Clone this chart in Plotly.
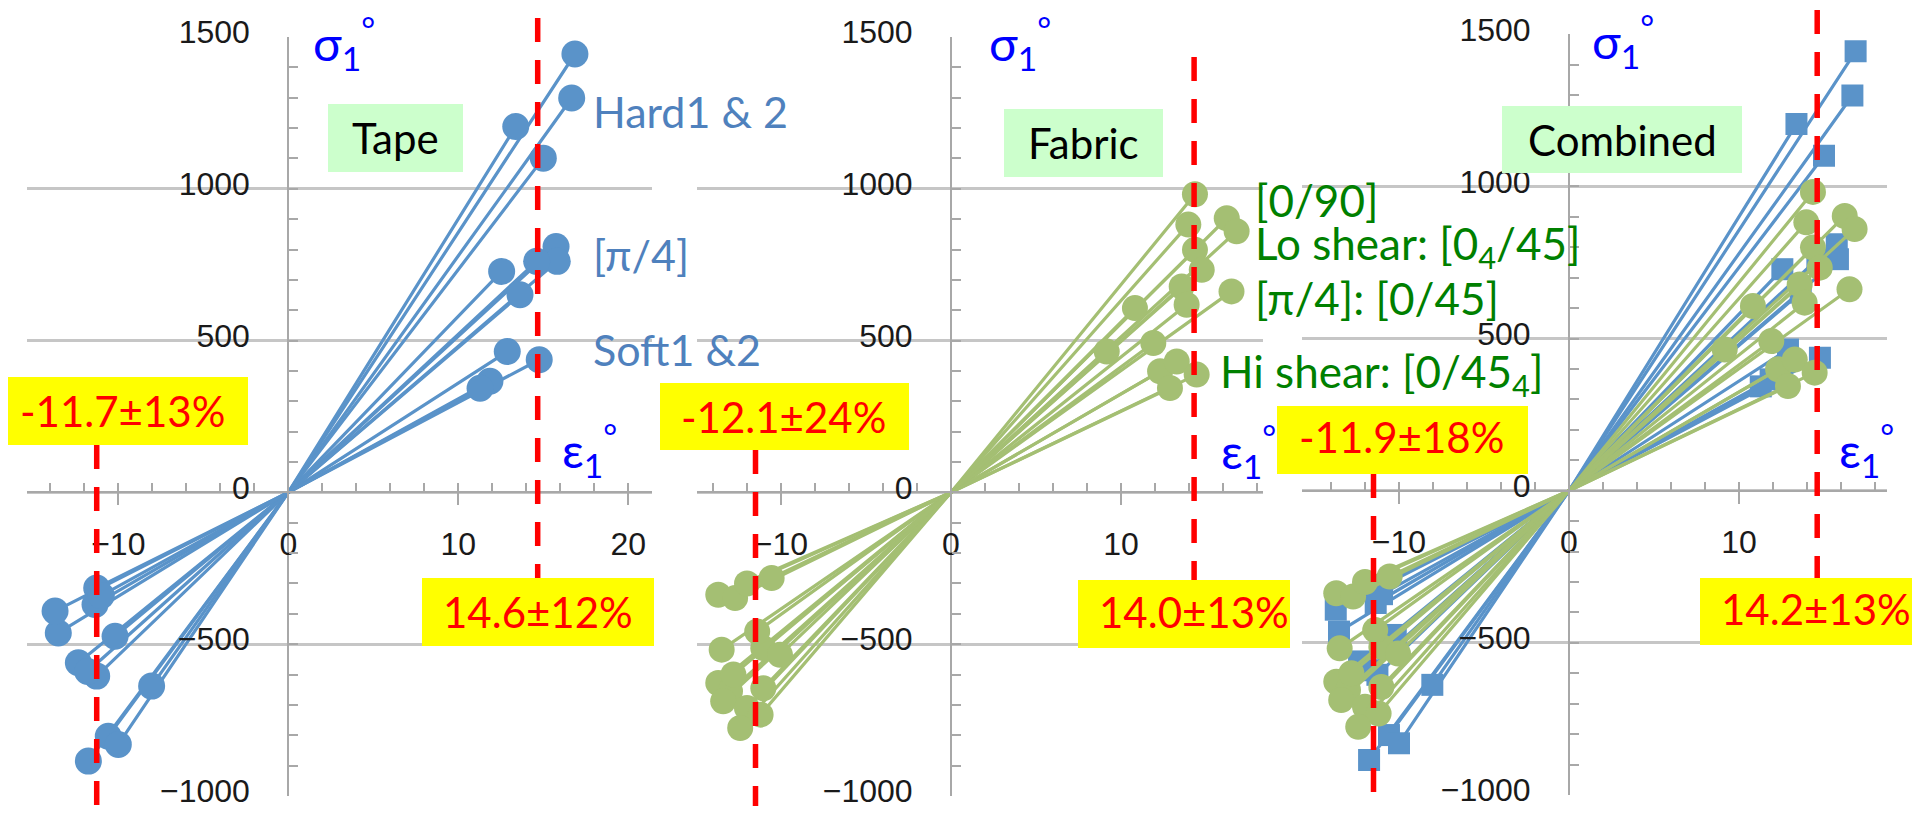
import plotly.graph_objects as go

# ---------------- data ----------------
tape_tension_strain = [16.86, 16.67, 13.38, 15.00, 15.75, 15.82, 14.61, 12.55, 13.63, 12.88, 14.76, 11.86, 11.28]
tape_tension_stress = [1444, 1299, 1205, 1101, 810, 761, 761, 728, 651, 464, 437, 366, 343]
tape_compression_strain = [-11.76, -10.59, -10.00, -8.04, -12.35, -11.27, -11.80, -10.19, -13.53, -13.72, -11.27, -11.37, -11.00]
tape_compression_stress = [-885, -803, -830, -638, -561, -605, -590, -474, -463, -391, -315, -369, -340]

fabric_tension_strain = [14.35, 13.96, 16.22, 16.80, 14.35, 14.75, 13.57, 13.86, 16.50, 10.82, 11.90, 9.16, 12.30, 13.28, 14.45, 12.88]
fabric_tension_stress = [982, 882, 903, 860, 799, 733, 678, 618, 662, 607, 492, 464, 399, 431, 388, 344]
fabric_compression_strain = [-10.55, -13.69, -12.70, -12.00, -13.49, -11.04, -10.06, -11.40, -13.69, -13.00, -11.04, -13.40, -12.00, -11.20, -12.40, -12.80]
fabric_compression_stress = [-282, -337, -348, -300, -518, -513, -535, -458, -628, -655, -645, -688, -710, -732, -776, -600]

panel_titles = ["Tape", "Fabric", "Combined"]
mean_compression_strain = [-11.27, -11.5, -11.5]
mean_tension_strain = [14.67, 14.3, 14.6]
compression_labels = ["-11.7±13%", "-12.1±24%", "-11.9±18%"]
tension_labels = ["14.6±12%", "14.0±13%", "14.2±13%"]
tape_labels = ["Hard1 & 2", "[π/4]", "Soft1 &2"]
fabric_labels = ["[0/90]", "Lo shear: [0<sub>4</sub>/45]", "[π/4]: [0/45]", "Hi shear: [0/45<sub>4</sub>]"]
y_range = [-1000, 1500]

# ---------------- layout geometry (pixels) ----------------
W, H = 1920, 817
OFF = 8  # page body margin in the browser
PX_PER_UNIT = 17.0
panels = [
    dict(x0=27, x1=652, xzero=288.3, ytop=37, ybot=796),
    dict(x0=697, x1=1263, xzero=951, ytop=37, ybot=796),
    dict(x0=1302, x1=1887, xzero=1569, ytop=34.3, ybot=795),
]


def fx(px):
    return (px - OFF) / W


def fy(py):
    return 1 - (py - OFF) / H


BLUE = "#5A93C9"
GREEN = "#A4BF73"
GRID = "#C6C6C6"
AXIS = "#A8A8A8"
TICKFONT = dict(family="Liberation Sans", size=32, color="#1A1A1A")


def spec_xy(cs, cy, ts, ty):
    xs, ys = [], []
    for a, b, c, d in zip(cs, cy, ts, ty):
        xs += [a, 0, c, None]
        ys += [b, 0, d, None]
    return xs, ys


fig = go.Figure()

tape_lx, tape_ly = spec_xy(tape_compression_strain, tape_compression_stress,
                           tape_tension_strain, tape_tension_stress)
fab_lx, fab_ly = spec_xy(fabric_compression_strain, fabric_compression_stress,
                         fabric_tension_strain, fabric_tension_stress)
tape_mx = tape_compression_strain + tape_tension_strain
tape_my = tape_compression_stress + tape_tension_stress
fab_mx = fabric_compression_strain + fabric_tension_strain
fab_my = fabric_compression_stress + fabric_tension_stress


def add_set(lx, ly, mx, my, color, symbol, size, xa, ya):
    fig.add_trace(go.Scatter(x=lx, y=ly, mode="lines", line=dict(color=color, width=3.2),
                             xaxis=xa, yaxis=ya, showlegend=False, hoverinfo="skip"))
    fig.add_trace(go.Scatter(x=mx, y=my, mode="markers",
                             marker=dict(color=color, symbol=symbol, size=size, line=dict(width=0)),
                             xaxis=xa, yaxis=ya, showlegend=False))


add_set(tape_lx, tape_ly, tape_mx, tape_my, BLUE, "circle", 27, "x", "y")
add_set(fab_lx, fab_ly, fab_mx, fab_my, GREEN, "circle", 26, "x2", "y2")
add_set(tape_lx, tape_ly, tape_mx, tape_my, BLUE, "square", 22, "x3", "y3")
add_set(fab_lx, fab_ly, fab_mx, fab_my, GREEN, "circle", 26, "x3", "y3")

layout = dict(template="none", width=W, height=H, margin=dict(l=0, r=0, t=0, b=0, pad=0),
              autosize=False, paper_bgcolor="white", plot_bgcolor="white", showlegend=False)

for i, p in enumerate(panels):
    sfx = "" if i == 0 else str(i + 1)
    xr = [(p["x0"] - p["xzero"]) / PX_PER_UNIT, (p["x1"] - p["xzero"]) / PX_PER_UNIT]
    ydom = [fy(p["ybot"]), fy(p["ytop"])]
    xdom = [fx(p["x0"]), fx(p["x1"])]
    ypos = ydom[0] + (0 - y_range[0]) / (y_range[1] - y_range[0]) * (ydom[1] - ydom[0])
    xpos = xdom[0] + (0 - xr[0]) / (xr[1] - xr[0]) * (xdom[1] - xdom[0])
    layout["xaxis" + sfx] = dict(
        domain=xdom, range=xr, anchor="free", position=ypos, side="bottom", automargin=False,
        showgrid=False, zeroline=False, showline=True, linecolor=AXIS, linewidth=2,
        tick0=0, dtick=10, ticks="outside", ticklen=12, tickwidth=2, tickcolor=AXIS,
        minor=dict(dtick=2, tick0=0, ticks="inside", ticklen=8, tickwidth=2, tickcolor=AXIS),
        tickfont=TICKFONT, ticklabelstandoff=11, fixedrange=True)
    layout["yaxis" + sfx] = dict(
        domain=ydom, range=y_range, anchor="free", position=xpos, side="left", automargin=False,
        showgrid=True, gridcolor=GRID, gridwidth=3, zeroline=False,
        showline=True, linecolor=AXIS, linewidth=2,
        tick0=0, dtick=500, ticks="inside", ticklen=9, tickwidth=2, tickcolor=AXIS,
        minor=dict(dtick=100, ticks="inside", ticklen=9, tickwidth=2, tickcolor=AXIS),
        tickfont=TICKFONT, ticklabelstandoff=31, ticklabelshift=-5, fixedrange=True)

fig.update_layout(**layout)

# ---------------- shapes ----------------
shapes = []
DASH = dict(color="#FF0000", width=5.5, dash="24px,18px")
# (neg dash top, neg dash bottom, pos dash top, pos dash bottom) in px
dash_extent = [(445, 806, 18, 578), (450, 806, 57, 580), (474, 810, 10, 578)]
yellow_boxes = [((0, 377, 248, 445), (422, 578, 654, 646)),
                ((660, 383, 909, 450), (1078, 580, 1290, 648)),
                ((1277, 406, 1528, 474), (1700, 578, 1930, 645))]
green_boxes = [(328, 104, 463, 172), (1004, 109, 1163, 177), (1502, 106, 1742, 173)]

for i in range(3):
    xref = "x" if i == 0 else "x" + str(i + 1)
    nt, nb, pt, pb = dash_extent[i]
    shapes.append(dict(type="line", xref=xref, yref="paper", x0=mean_compression_strain[i],
                       x1=mean_compression_strain[i], y0=fy(nt), y1=fy(nb), line=DASH, layer="above"))
    shapes.append(dict(type="line", xref=xref, yref="paper", x0=mean_tension_strain[i],
                       x1=mean_tension_strain[i], y0=fy(pt), y1=fy(pb), line=DASH, layer="above"))
for i in range(3):
    for (a, b, c, d) in yellow_boxes[i]:
        shapes.append(dict(type="rect", xref="paper", yref="paper", x0=fx(a), x1=fx(c),
                           y0=fy(d), y1=fy(b), fillcolor="#FFFF00", line=dict(width=0), layer="above"))
    a, b, c, d = green_boxes[i]
    shapes.append(dict(type="rect", xref="paper", yref="paper", x0=fx(a), x1=fx(c),
                       y0=fy(d), y1=fy(b), fillcolor="#CCFFCC", line=dict(width=0), layer="above"))
fig.update_layout(shapes=shapes)

# ---------------- annotations ----------------
ann = []
LFONT = "Lato"


def text(s, px, py, color, size=42, xanchor="center"):
    ann.append(dict(text=s, x=fx(px), y=fy(py), xref="paper", yref="paper", showarrow=False,
                    xanchor=xanchor, yanchor="middle", font=dict(family=LFONT, size=size, color=color)))


title_centers = [(395.5, 138), (1083.5, 143), (1622, 140)]
comp_centers = [(122, 411), (783, 417), (1401, 437)]
tens_centers = [(537.5, 612), (1194, 612), (1816, 609)]
sigma_pos = [(311, 43), (987, 43), (1590, 41)]
eps_pos = [(560, 450), (1219, 451), (1837, 450)]

for i in range(3):
    text(panel_titles[i], *title_centers[i], "#000000")
    text(compression_labels[i], *comp_centers[i], "#FF0000")
    text(tension_labels[i], *tens_centers[i], "#FF0000")
    text("σ<sub>1</sub><sup>°</sup>", *sigma_pos[i], "#0000FF", size=48, xanchor="left")
    text("ε<sub>1</sub><sup>°</sup>", *eps_pos[i], "#0000FF", size=48, xanchor="left")

tape_label_pos = [(591, 112), (591, 254), (591, 349)]
for s, (px, py) in zip(tape_labels, tape_label_pos):
    text(s, px, py, "#4F81BD", size=43, xanchor="left")

fabric_label_pos = [(1253, 200), (1253, 246), (1253, 298), (1218, 374)]
for s, (px, py) in zip(fabric_labels, fabric_label_pos):
    text(s, px, py, "#008000", size=44, xanchor="left")

fig.update_layout(annotations=ann)

fig.write_html("out.html")
